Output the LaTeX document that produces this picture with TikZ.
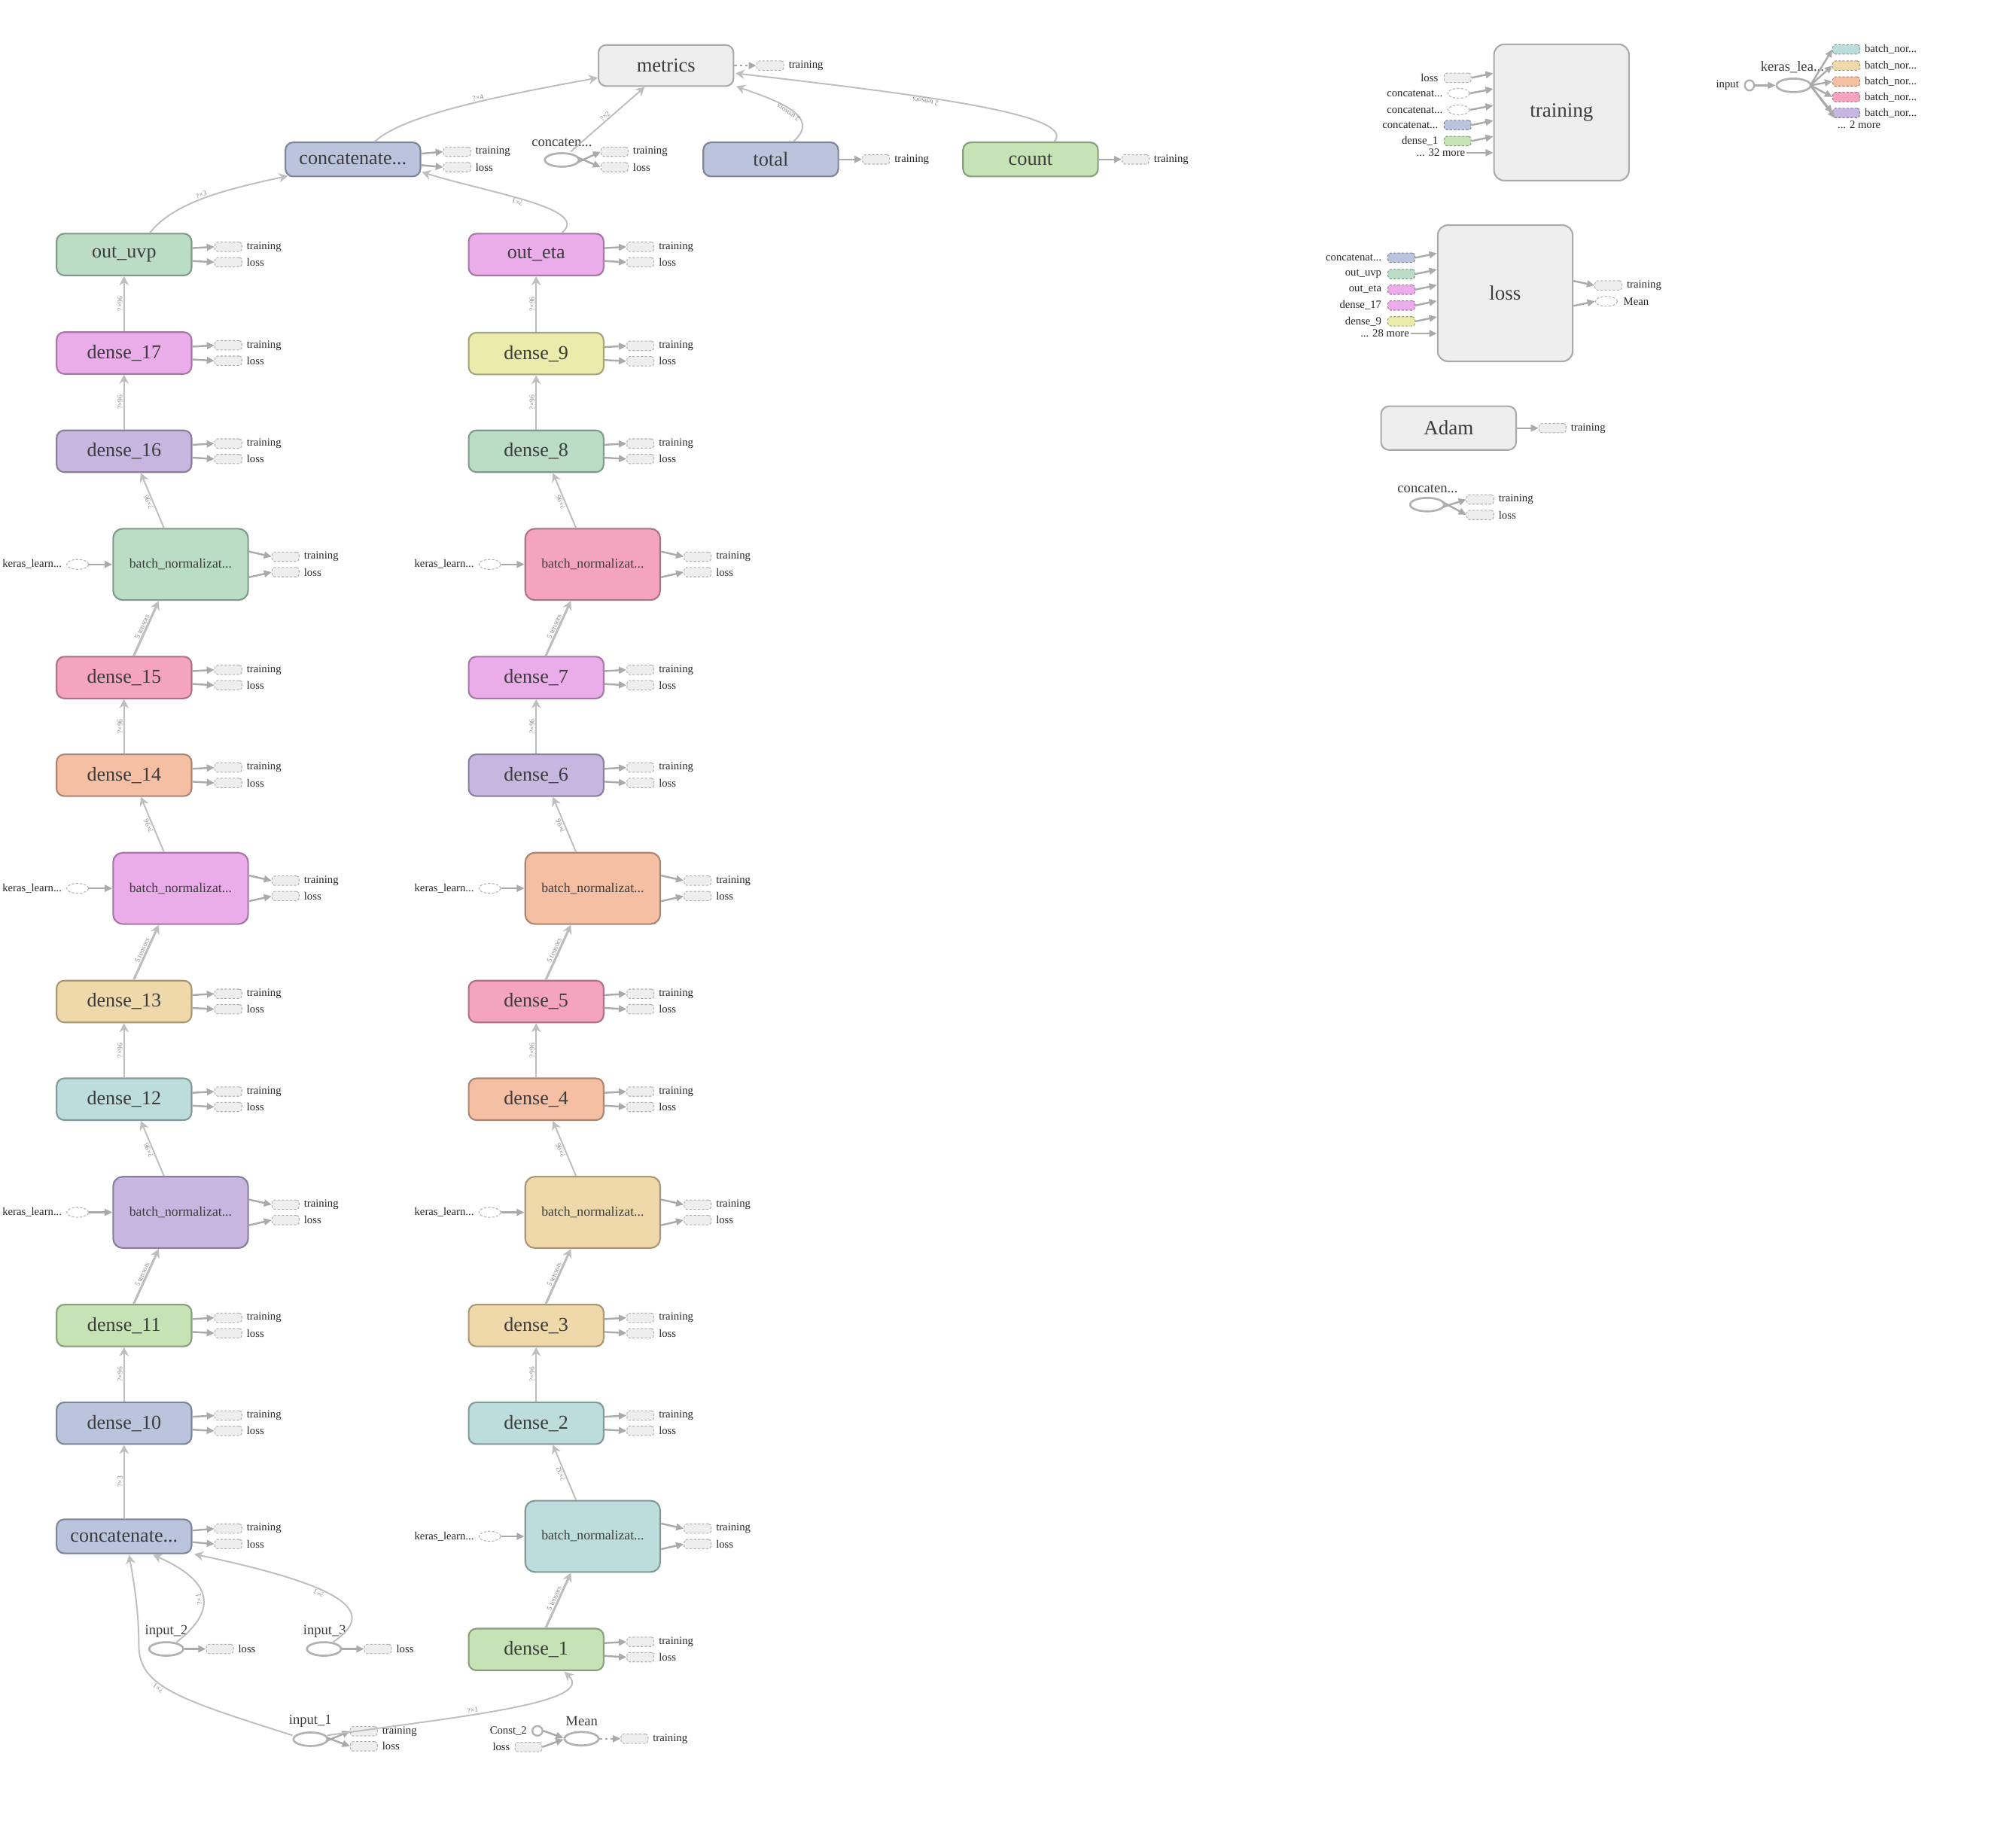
\documentclass[tikz,border=0pt]{standalone}
\usepackage{fontspec}
\setmainfont{Liberation Serif}
\usetikzlibrary{arrows.meta,calc,shapes.geometric}

\definecolor{fMint}{RGB}{187,221,198}\definecolor{bMint}{RGB}{128,153,136}
\definecolor{fViolet}{RGB}{234,173,234}\definecolor{bViolet}{RGB}{165,120,165}
\definecolor{fPurple}{RGB}{198,182,224}\definecolor{bPurple}{RGB}{138,126,157}
\definecolor{fBlue}{RGB}{186,197,221}\definecolor{bBlue}{RGB}{125,134,153}
\definecolor{fLGreen}{RGB}{198,227,182}\definecolor{bLGreen}{RGB}{136,158,125}
\definecolor{fPink}{RGB}{245,164,191}\definecolor{bPink}{RGB}{172,114,133}
\definecolor{fSalmon}{RGB}{245,191,164}\definecolor{bSalmon}{RGB}{172,133,114}
\definecolor{fTan}{RGB}{239,217,171}\definecolor{bTan}{RGB}{167,151,119}
\definecolor{fTeal}{RGB}{189,220,220}\definecolor{bTeal}{RGB}{131,153,153}
\definecolor{fYellow}{RGB}{235,235,171}\definecolor{bYellow}{RGB}{164,164,119}
\definecolor{fGray}{RGB}{238,238,238}\definecolor{bGray}{RGB}{170,170,170}
\definecolor{edgegray}{RGB}{190,190,190}
\definecolor{stubgray}{RGB}{170,170,170}
\definecolor{dashgray}{RGB}{178,178,178}
\definecolor{opgray}{RGB}{178,178,178}
\definecolor{labgray}{RGB}{60,60,60}
\definecolor{tinygray}{RGB}{135,135,135}

\tikzset{
  cMint/.style={fill=fMint,draw=bMint},
  cViolet/.style={fill=fViolet,draw=bViolet},
  cPurple/.style={fill=fPurple,draw=bPurple},
  cBlue/.style={fill=fBlue,draw=bBlue},
  cLGreen/.style={fill=fLGreen,draw=bLGreen},
  cPink/.style={fill=fPink,draw=bPink},
  cSalmon/.style={fill=fSalmon,draw=bSalmon},
  cTan/.style={fill=fTan,draw=bTan},
  cTeal/.style={fill=fTeal,draw=bTeal},
  cYellow/.style={fill=fYellow,draw=bYellow},
  cGray/.style={fill=fGray,draw=bGray},
  box/.style={draw, rounded corners=0.12cm, line width=0.7pt, inner sep=0pt,
    minimum width=2.1cm, text=labgray, font=\fontsize{8.7}{8.7}\selectfont},
  densebox/.style={box, minimum height=0.65cm},
  catbox/.style={box, minimum height=0.53cm},
  bnbox/.style={box, minimum height=1.11cm, rounded corners=0.15cm,
    font=\fontsize{5.9}{6}\selectfont},
  bigbox/.style={box, cGray, minimum height=2.12cm, rounded corners=0.16cm,
    font=\fontsize{9}{9}\selectfont},
  outrect/.style={draw=dashgray, fill=fGray, dash pattern=on 1.1pt off 0.7pt,
    line width=0.35pt, rounded corners=1.2pt, minimum width=0.42cm,
    minimum height=0.146cm, inner sep=0pt},
  dashell/.style={ellipse, draw=dashgray, fill=white, dash pattern=on 1.1pt off 0.7pt,
    line width=0.35pt, minimum width=0.34cm, minimum height=0.154cm, inner sep=0pt},
  opnode/.style={ellipse, draw=opgray, fill=white, line width=0.9pt,
    minimum width=0.53cm, minimum height=0.21cm, inner sep=0pt},
  constnode/.style={ellipse, draw=opgray, fill=white, line width=0.8pt,
    minimum width=0.16cm, minimum height=0.15cm, inner sep=0pt},
  small/.style={font=\fontsize{4.9}{4.9}\selectfont, inner sep=0.4pt, text=black!85},
  oplab/.style={font=\fontsize{6.2}{6.2}\selectfont, inner sep=0pt, text=labgray},
  elab/.style={font=\fontsize{3.2}{3.2}\selectfont, text=tinygray, sloped,
    allow upside down, inner sep=0.4pt},
  edge/.style={draw=edgegray, line width=0.65pt,
    -{Stealth[length=4pt,width=4.2pt,inset=1.3pt]}},
  fatedge/.style={edge, line width=1.05pt},
  stub/.style={draw=stubgray, line width=0.8pt, -{Triangle[length=3.4pt,width=3pt]}},
  dotstub/.style={stub, dash pattern=on 1.2pt off 1.2pt},
}

\begin{document}
\begin{tikzpicture}[x=0.02cm, y=-0.02cm]
\useasboundingbox (0,0) rectangle (1568,1435);

% ---------------- left tower ----------------
\node[densebox,cMint]   (ouvp) at (96.5,198)   {out\_uvp};
\node[densebox,cViolet] (d17)  at (96.5,274.6) {dense\_17};
\node[densebox,cPurple] (d16)  at (96.5,351)   {dense\_16};
\node[bnbox,cMint]      (bnA1) at (140.5,439)  {batch\_normalizat...};
\node[densebox,cPink]   (d15)  at (96.5,527)   {dense\_15};
\node[densebox,cSalmon] (d14)  at (96.5,603)   {dense\_14};
\node[bnbox,cViolet]    (bnA2) at (140.5,691)  {batch\_normalizat...};
\node[densebox,cTan]    (d13)  at (96.5,779)   {dense\_13};
\node[densebox,cTeal]   (d12)  at (96.5,855)   {dense\_12};
\node[bnbox,cPurple]    (bnA3) at (140.5,943)  {batch\_normalizat...};
\node[densebox,cLGreen] (d11)  at (96.5,1031)  {dense\_11};
\node[densebox,cBlue]   (d10)  at (96.5,1107)  {dense\_10};
\node[catbox,cBlue]     (catA) at (96.5,1195)  {concatenate...};

% ---------------- right tower ----------------
\node[densebox,cViolet] (oeta) at (417,198)   {out\_eta};
\node[densebox,cYellow] (d9)   at (417,275)   {dense\_9};
\node[densebox,cMint]   (d8)   at (417,351)   {dense\_8};
\node[bnbox,cPink]      (bnB1) at (461,439)   {batch\_normalizat...};
\node[densebox,cViolet] (d7)   at (417,527)   {dense\_7};
\node[densebox,cPurple] (d6)   at (417,603)   {dense\_6};
\node[bnbox,cSalmon]    (bnB2) at (461,691)   {batch\_normalizat...};
\node[densebox,cPink]   (d5)   at (417,779)   {dense\_5};
\node[densebox,cSalmon] (d4)   at (417,855)   {dense\_4};
\node[bnbox,cTan]       (bnB3) at (461,943)   {batch\_normalizat...};
\node[densebox,cTan]    (d3)   at (417,1031)  {dense\_3};
\node[densebox,cTeal]   (d2)   at (417,1107)  {dense\_2};
\node[bnbox,cTeal]      (bnB4) at (461,1195)  {batch\_normalizat...};
\node[densebox,cLGreen] (d1)   at (417,1283)  {dense\_1};

% ---------------- top row ----------------
\node[catbox,cBlue]   (catT)    at (274.5,124) {concatenate...};
\node[box,cGray,minimum height=0.64cm,font=\fontsize{8.8}{8.8}\selectfont]
                      (metrics) at (518,51)    {metrics};
\node[catbox,cBlue,font=\fontsize{8.8}{8.8}\selectfont]   (total) at (599.5,124) {total};
\node[catbox,cLGreen,font=\fontsize{8.8}{8.8}\selectfont] (count) at (801.5,124) {count};
\node[opnode] (catop) at (437,124.4) {};
\node[oplab] (catoplab) at (437,111) {concaten...};

% training / loss stubs on the dense-like boxes
\foreach \n in {ouvp,d17,d16,d15,d14,d13,d12,d11,d10,oeta,d9,d8,d7,d6,d5,d4,d3,d2,d1}{
  \node[outrect] (\n-t) at ($(\n.east)+(28,-6)$) {};
  \node[outrect] (\n-l) at ($(\n.east)+(28,6)$) {};
  \node[small,anchor=west] (\n-tl) at ($(\n-t.east)+(2.5,0)$) {training};
  \node[small,anchor=west] (\n-ll) at ($(\n-l.east)+(2.5,0)$) {loss};
  \draw[stub] ($(\n.east)+(0,-5)$) -- (\n-t.west);
  \draw[stub] ($(\n.east)+(0,5)$) -- (\n-l.west);
}
\foreach \n in {catT,catA}{
  \node[outrect] (\n-t) at ($(\n.east)+(28,-6)$) {};
  \node[outrect] (\n-l) at ($(\n.east)+(28,6)$) {};
  \node[small,anchor=west] (\n-tl) at ($(\n-t.east)+(2.5,0)$) {training};
  \node[small,anchor=west] (\n-ll) at ($(\n-l.east)+(2.5,0)$) {loss};
  \draw[stub] ($(\n.east)+(0,-4.5)$) -- (\n-t.west);
  \draw[stub] ($(\n.east)+(0,4.5)$) -- (\n-l.west);
}
% batch normalization blocks: learning-phase input and outputs
\foreach \n in {bnA1,bnA2,bnA3,bnB1,bnB2,bnB3,bnB4}{
  \node[outrect] (\n-t) at ($(\n.east)+(28.5,-6)$) {};
  \node[outrect] (\n-l) at ($(\n.east)+(28.5,6)$) {};
  \node[small,anchor=west] (\n-tl) at ($(\n-t.east)+(2.5,0)$) {training};
  \node[small,anchor=west] (\n-ll) at ($(\n-l.east)+(2.5,0)$) {loss};
  \draw[stub] ($(\n.east)+(0,-10)$) -- (\n-t.west);
  \draw[stub] ($(\n.east)+(0,10)$) -- (\n-l.west);
  \node[dashell] (\n-k) at ($(\n.west)+(-27,0)$) {};
  \node[small,anchor=east] (\n-kl) at ($(\n-k.west)+(-2.5,0)$) {keras\_learn...};
  \draw[stub] (\n-k.east) -- (\n.west);
}

% ---------------- left tower edges ----------------
\draw[edge] (d17.north) -- node[elab,above] {?×96} (ouvp.south);
\draw[edge] (d16.north) -- node[elab,above] {?×96} (d17.south);
\draw[edge] ($(bnA1.north)+(-13,0)$) -- node[elab,above] {?×96} ($(d16.south)+(13,0)$);
\draw[fatedge] ($(d15.north)+(7.5,0)$) -- node[elab,above] {5 tensors} ($(bnA1.south)+(-17,0)$);
\draw[edge] (d14.north) -- node[elab,above] {?×96} (d15.south);
\draw[edge] ($(bnA2.north)+(-13,0)$) -- node[elab,above] {?×96} ($(d14.south)+(13,0)$);
\draw[fatedge] ($(d13.north)+(7.5,0)$) -- node[elab,above] {5 tensors} ($(bnA2.south)+(-17,0)$);
\draw[edge] (d12.north) -- node[elab,above] {?×96} (d13.south);
\draw[edge] ($(bnA3.north)+(-13,0)$) -- node[elab,above] {?×96} ($(d12.south)+(13,0)$);
\draw[fatedge] ($(d11.north)+(7.5,0)$) -- node[elab,above] {5 tensors} ($(bnA3.south)+(-17,0)$);
\draw[edge] (d10.north) -- node[elab,above] {?×96} (d11.south);
\draw[edge] (catA.north) -- node[elab,above] {?×3} (d10.south);

% ---------------- right tower edges ----------------
\draw[edge] (d9.north) -- node[elab,above] {?×96} (oeta.south);
\draw[edge] (d8.north) -- node[elab,above] {?×96} (d9.south);
\draw[edge] ($(bnB1.north)+(-13,0)$) -- node[elab,above] {?×96} ($(d8.south)+(13,0)$);
\draw[fatedge] ($(d7.north)+(7.5,0)$) -- node[elab,above] {5 tensors} ($(bnB1.south)+(-17,0)$);
\draw[edge] (d6.north) -- node[elab,above] {?×96} (d7.south);
\draw[edge] ($(bnB2.north)+(-13,0)$) -- node[elab,above] {?×96} ($(d6.south)+(13,0)$);
\draw[fatedge] ($(d5.north)+(7.5,0)$) -- node[elab,above] {5 tensors} ($(bnB2.south)+(-17,0)$);
\draw[edge] (d4.north) -- node[elab,above] {?×96} (d5.south);
\draw[edge] ($(bnB3.north)+(-13,0)$) -- node[elab,above] {?×96} ($(d4.south)+(13,0)$);
\draw[fatedge] ($(d3.north)+(7.5,0)$) -- node[elab,above] {5 tensors} ($(bnB3.south)+(-17,0)$);
\draw[edge] (d2.north) -- node[elab,above] {?×96} (d3.south);
\draw[edge] ($(bnB4.north)+(-13,0)$) -- node[elab,above] {?×32} ($(d2.south)+(13,0)$);
\draw[fatedge] ($(d1.north)+(7.5,0)$) -- node[elab,above] {5 tensors} ($(bnB4.south)+(-17,0)$);

% ---------------- top edges ----------------
\draw[edge] ($(ouvp.north)+(20,0)$) .. controls (135,158) and (172,148) ..
  node[elab,above,pos=0.5] {?×3} ($(catT.south west)+(2.5,-1)$);
\draw[edge] ($(oeta.north)+(20,0)$) .. controls (460,162) and (380,150) ..
  node[elab,above,pos=0.55] {?×1} ($(catT.south east)+(0.5,-4)$);
\draw[edge] ($(catT.north)+(17,0)$) .. controls (315,88) and (400,72.5) ..
  node[elab,above,pos=0.55] {?×4} ($(metrics.west)+(0,9.5)$);
\draw[edge] ($(catop.north)+(7,-0.5)$) -- node[elab,above] {?×2} ($(metrics.south)+(-16.5,0)$);
\draw[edge] ($(total.north)+(17.5,0)$) .. controls (640,90) and (603,78) ..
  node[elab,above,pos=0.5] {2 tensors} ($(metrics.south east)+(1.5,-0.5)$);
\draw[edge] ($(count.north)+(18.5,0)$) .. controls (840,88) and (700,72) ..
  node[elab,above,pos=0.6] {2 tensors} ($(metrics.east)+(1,6)$);

% metrics / total / count / concat op outputs
\node[outrect] (metrics-t) at ($(metrics.east)+(28,0)$) {};
\node[small,anchor=west] (metrics-tl) at ($(metrics-t.east)+(2.5,0)$) {training};
\draw[dotstub] (metrics.east) -- (metrics-t.west);
\node[outrect] (total-t) at ($(total.east)+(28.8,0)$) {};
\node[small,anchor=west] (total-tl) at ($(total-t.east)+(2.5,0)$) {training};
\draw[stub] (total.east) -- (total-t.west);
\node[outrect] (count-t) at ($(count.east)+(28.6,0)$) {};
\node[small,anchor=west] (count-tl) at ($(count-t.east)+(2.5,0)$) {training};
\draw[stub] (count.east) -- (count-t.west);
\node[outrect] (catop-t) at (478,118) {};
\node[outrect] (catop-l) at (478,130) {};
\node[small,anchor=west] (catop-tl) at ($(catop-t.east)+(2.5,0)$) {training};
\node[small,anchor=west] (catop-ll) at ($(catop-l.east)+(2.5,0)$) {loss};
\draw[stub] ($(catop.east)+(-2,2)$) -- (catop-t.west);
\draw[stub] ($(catop.east)+(-2,-2)$) -- (catop-l.west);

% ---------------- inputs at the bottom ----------------
\node[opnode] (input2) at (129.3,1282.6) {};
\node[oplab] (input2lab) at (129.4,1268.7) {input\_2};
\node[outrect] (input2-l) at (171,1282.6) {};
\node[small,anchor=west] (input2-ll) at ($(input2-l.east)+(2.5,0)$) {loss};
\draw[stub] (input2.east) -- (input2-l.west);

\node[opnode] (input3) at (252,1282.6) {};
\node[oplab] (input3lab) at (252.5,1268.7) {input\_3};
\node[outrect] (input3-l) at (294,1282.6) {};
\node[small,anchor=west] (input3-ll) at ($(input3-l.east)+(2.5,0)$) {loss};
\draw[stub] (input3.east) -- (input3-l.west);

\node[opnode] (input1) at (241.5,1352.8) {};
\node[oplab] (input1lab) at (241.4,1338.8) {input\_1};
\node[outrect] (input1-t) at (283,1346.6) {};
\node[outrect] (input1-l) at (283,1358.3) {};
\node[small,anchor=west] (input1-tl) at ($(input1-t.east)+(2.5,0)$) {training};
\node[small,anchor=west] (input1-ll) at ($(input1-l.east)+(2.5,0)$) {loss};
\draw[stub] ($(input1.east)+(-2,1.5)$) -- (input1-t.west);
\draw[stub] ($(input1.east)+(-2,-1.5)$) -- (input1-l.west);

\node[constnode] (const2) at (418,1346.3) {};
\node[small,anchor=east] (const2lab) at ($(const2.west)+(-2.5,0)$) {Const\_2};
\node[outrect] (meanloss) at (411,1358.9) {};
\node[small,anchor=east] (meanlosslab) at ($(meanloss.west)+(-2.5,0)$) {loss};
\node[opnode] (mean) at (452.3,1352.4) {};
\node[oplab] (meanlab) at (452.4,1338.8) {Mean};
\node[outrect] (mean-t) at (493.5,1352.4) {};
\node[small,anchor=west] (mean-tl) at ($(mean-t.east)+(2.5,0)$) {training};
\draw[stub] (const2.east) -- ($(mean.west)+(0,-0.5)$);
\draw[stub] (meanloss.east) -- ($(mean.west)+(0,0.5)$);
\draw[dotstub] (mean.east) -- (mean-t.west);

% input edges
\draw[edge] ($(input1.west)+(0,-3)$) .. controls (140,1322) and (108,1312) .. (108,1280)
  node[elab,above,pos=0.6] {?×1}
  .. controls (108,1250) and (103,1225) .. ($(catA.south)+(4,0.5)$);
\draw[edge] ($(input2.north east)+(-2,-1)$) .. controls (166,1255) and (170,1232) ..
  node[elab,above,pos=0.5] {?×1} ($(catA.south)+(22.5,0.5)$);
\draw[edge] ($(input3.north east)+(-3,-1)$) .. controls (292,1255) and (275,1235) ..
  node[elab,above,pos=0.62] {?×1} ($(catA.south east)+(1.5,0)$);
\draw[edge] ($(input1.east)+(-1,-3)$) .. controls (350,1336) and (465,1325) ..
  node[elab,above,pos=0.4] {?×1} ($(d1.south)+(22,0.5)$);

% ---------------- training block ----------------
\node[bigbox] (trainbox) at (1214.5,87.5) {training};
\node[outrect] (ti1) at (1133.7,60.5) {};
\node[small,anchor=east] (ti1l) at (1119.5,60.5) {loss};
\node[dashell] (ti2) at (1134.5,72.6) {};
\node[small,anchor=east] (ti2l) at (1123,72.6) {concatenat...};
\node[dashell] (ti3) at (1134.5,85.5) {};
\node[small,anchor=east] (ti3l) at (1123,85.5) {concatenat...};
\node[outrect,cBlue] (ti4) at (1133.7,97.3) {};
\node[small,anchor=east] (ti4l) at (1119.5,97.3) {concatenat...};
\node[outrect,cLGreen] (ti5) at (1133.7,109.7) {};
\node[small,anchor=east] (ti5l) at (1119.5,109.7) {dense\_1};
\node[small,anchor=east] (timore) at (1140.6,118.8) {... 32 more};
\foreach \n in {ti1,ti2,ti3,ti4,ti5}{
  \draw[stub] (\n.east) -- ($(\n.east -| trainbox.west)+(0,-3.5)$);
}
\draw[stub] (timore.east) -- (timore.east -| trainbox.west);

% ---------------- learning-phase fan-out ----------------
\node[small,anchor=east] (kinlab) at (1353.5,66.4) {input};
\node[constnode,minimum width=0.145cm,minimum height=0.16cm] (kin) at (1360.7,66.4) {};
\node[opnode] (kop) at (1395,66.4) {};
\node[oplab] (koplab) at (1394,52.4) {keras\_lea...};
\draw[stub] (kin.east) -- (kop.west);
\node[outrect,cTeal]   (k1) at (1436,38.4) {};
\node[outrect,cTan]    (k2) at (1436,51)   {};
\node[outrect,cSalmon] (k3) at (1436,63.4) {};
\node[outrect,cPink]   (k4) at (1436,75.5) {};
\node[outrect,cPurple] (k5) at (1436,87.9) {};
\foreach \n in {k1,k2,k3,k4,k5}{
  \node[small,anchor=west] (\n-l) at ($(\n.east)+(2.5,0)$) {batch\_nor...};
  \draw[stub] ($(kop.east)+(-1,0)$) -- (\n.west);
}
\node[small] (kmore) at (1446,96.8) {... 2 more};
\draw[stub] ($(kop.east)+(-1,0)$) -- ($(kmore.north west)+(-1,-1)$);

% ---------------- loss block ----------------
\node[bigbox] (lossbox) at (1170.7,228.1) {loss};
\node[outrect,cBlue]   (li1) at (1090,200.5) {};
\node[outrect,cMint]   (li2) at (1090,213.2) {};
\node[outrect,cViolet] (li3) at (1090,225.3) {};
\node[outrect,cViolet] (li4) at (1090,237.6) {};
\node[outrect,cYellow] (li5) at (1090,250)   {};
\node[small,anchor=east] (li1l) at (1075.5,200.5) {concatenat...};
\node[small,anchor=east] (li2l) at (1075.5,213.2) {out\_uvp};
\node[small,anchor=east] (li3l) at (1075.5,225.3) {out\_eta};
\node[small,anchor=east] (li4l) at (1075.5,237.6) {dense\_17};
\node[small,anchor=east] (li5l) at (1075.5,250)   {dense\_9};
\node[small,anchor=east] (limore) at (1097,259.4) {... 28 more};
\foreach \n in {li1,li2,li3,li4,li5}{
  \draw[stub] (\n.east) -- ($(\n.east -| lossbox.west)+(0,-3.5)$);
}
\draw[stub] (limore.east) -- (limore.east -| lossbox.west);
\node[outrect] (lo1) at (1251,222) {};
\node[small,anchor=west] (lo1l) at ($(lo1.east)+(2.5,0)$) {training};
\node[dashell] (lo2) at (1249.4,234.4) {};
\node[small,anchor=west] (lo2l) at ($(lo2.east)+(3.5,0)$) {Mean};
\draw[stub] ($(lossbox.east)+(0,-9.6)$) -- (lo1.west);
\draw[stub] ($(lossbox.east)+(0,9.8)$) -- (lo2.west);

% ---------------- optimizer ----------------
\node[box,cGray,minimum height=0.68cm,font=\fontsize{9}{9}\selectfont] (adam) at (1126.7,333) {Adam};
\node[outrect] (adam-t) at ($(adam.east)+(27.7,0)$) {};
\node[small,anchor=west] (adam-tl) at ($(adam-t.east)+(2.5,0)$) {training};
\draw[stub] (adam.east) -- (adam-t.west);

% ---------------- stray concat op ----------------
\node[opnode] (catop2) at (1110,392.5) {};
\node[oplab] (catop2lab) at (1110.4,380.4) {concaten...};
\node[outrect] (catop2-t) at (1151.3,388.5) {};
\node[outrect] (catop2-l) at (1151.3,400.5) {};
\node[small,anchor=west] (catop2-tl) at ($(catop2-t.east)+(2.5,0)$) {training};
\node[small,anchor=west] (catop2-ll) at ($(catop2-l.east)+(2.5,0)$) {loss};
\draw[stub] ($(catop2.east)+(-2,2)$) -- (catop2-t.west);
\draw[stub] ($(catop2.east)+(-2,-2)$) -- (catop2-l.west);

\end{tikzpicture}
\end{document}
